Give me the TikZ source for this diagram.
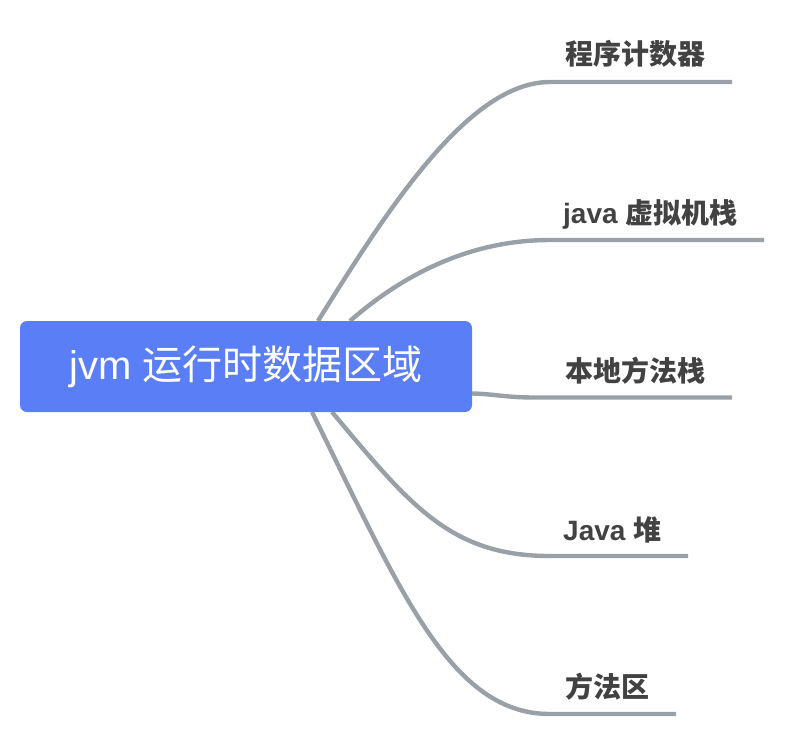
\documentclass[tikz,border=0pt]{standalone}
\usepackage{fontspec}
\setmainfont{Liberation Sans}
\newfontfamily\cjk{Noto Sans CJK SC}
\usetikzlibrary{backgrounds}
\definecolor{rootblue}{HTML}{5A7EF6}
\definecolor{branchgray}{HTML}{99A0A8}
\definecolor{labelgray}{HTML}{424242}
\begin{document}
\begin{tikzpicture}[x=1pt,y=-1pt,
  rootbox/.style={rectangle, rounded corners=7pt, fill=rootblue, text=white,
    minimum width=452pt, minimum height=91pt, inner sep=0pt,
    font=\fontsize{40}{48}\selectfont},
  leaf/.style={anchor=base west, inner sep=0pt, text=labelgray,
    font=\fontsize{28}{32}\selectfont\bfseries},
  branch/.style={draw=branchgray, line width=4.4pt}]
\useasboundingbox (0,0) rectangle (787,737);

\node[rootbox] (root) at (246,366.5) {jvm {\cjk 运行时数据区域}};

\node[leaf] (l1) at (565,64) {\cjk 程序计数器};
\node[leaf] (l2) at (563,223) {java {\cjk 虚拟机栈}};
\node[leaf] (l3) at (565,381) {\cjk 本地方法栈};
\node[leaf] (l4) at (563,540) {Java {\cjk 堆}};
\node[leaf] (l5) at (565,697) {\cjk 方法区};

\coordinate (s1) at (318,321);
\coordinate (s2) at (350,321);
\coordinate (s3) at (472,393.5);
\coordinate (s4) at (332,412);
\coordinate (s5) at (312,412);

\coordinate (m1) at (550,82);
\coordinate (m2) at (550,240);
\coordinate (m3) at (535,397.5);
\coordinate (m4) at (550,556);
\coordinate (m5) at (550,714);

\coordinate (e1) at (732,82);
\coordinate (e2) at (764,240);
\coordinate (e3) at (732,397.5);
\coordinate (e4) at (688,556);
\coordinate (e5) at (676,714);

\begin{scope}[on background layer]
\fill[white] (0,0) rectangle (787,737);
\draw[branch] (s1) .. controls (390,205) and (470,82) .. (m1) -- (e1);
\draw[branch] (s2) .. controls (398,279) and (465,240) .. (m2) -- (e2);
\draw[branch] (s3) .. controls (495,394) and (505,397.5) .. (m3) -- (e3);
\draw[branch] (s4) .. controls (410,505) and (450,556) .. (m4) -- (e4);
\draw[branch] (s5) .. controls (400,590) and (450,714) .. (m5) -- (e5);
\end{scope}
\end{tikzpicture}
\end{document}
